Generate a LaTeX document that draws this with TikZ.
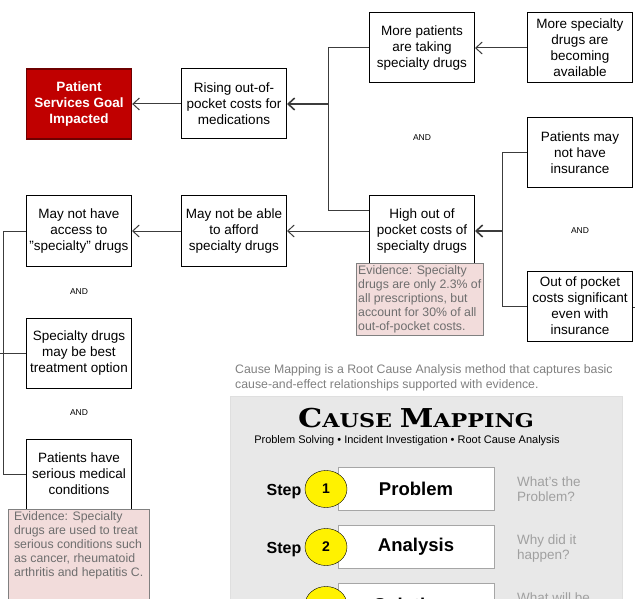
\documentclass[tikz,border=0pt]{standalone}
\usepackage{fontspec}
\setmainfont{Liberation Sans}
\newfontfamily\titlefont{DejaVu Serif}
\usetikzlibrary{arrows.meta,shapes.geometric}

\definecolor{goalred}{HTML}{C00000}
\definecolor{goaledge}{HTML}{6E0000}
\definecolor{evidfill}{HTML}{F2DCDB}
\definecolor{evidtext}{HTML}{6E6E6E}
\definecolor{linkgray}{HTML}{3C3C3C}
\definecolor{panelgray}{HTML}{E8E8E8}
\definecolor{hintgray}{HTML}{A0A0A0}

\begin{document}
\begin{tikzpicture}[x=1pt,y=-1pt,
  cause/.style={draw=black,line width=1pt,fill=white,minimum width=105pt,minimum height=70pt,
    inner sep=1pt,align=center,font=\fontsize{13.5}{16}\selectfont},
  goal/.style={cause,fill=goalred,draw=goaledge,line width=1.4pt,text=white,font=\fontsize{13.5}{16}\selectfont\bfseries},
  evid/.style={draw=gray,fill=evidfill,text=evidtext,anchor=north west,align=left,inner sep=2pt,
    font=\fontsize{12.3}{14.2}\selectfont},
  andlabel/.style={font=\fontsize{8.5}{10}\selectfont},
  link/.style={draw=linkgray,line width=1pt},
  arr/.style={link,-{Straight Barb[length=6.5pt,width=12pt]}},
  stepbox/.style={draw=gray!70,fill=white,minimum width=156pt,minimum height=43pt,font=\fontsize{18.5}{20}\selectfont\bfseries},
  stepball/.style={ellipse,draw=black,fill=yellow,minimum width=42pt,minimum height=37pt,inner sep=0pt,font=\fontsize{14}{16}\selectfont\bfseries},
  steplabel/.style={font=\fontsize{16}{18}\selectfont\bfseries},
  hint/.style={text=hintgray,align=left,anchor=north west,inner sep=0pt,font=\fontsize{13.5}{15}\selectfont}]
  \clip (0,0) rectangle (635,599);

  % cause boxes
  \node[goal] (goal) at (79,104) {Patient\\Services Goal\\Impacted};
  \node[cause] (rising) at (234,104) {Rising out-of-\\pocket costs for\\medications};
  \node[cause] (morepat) at (422,48) {More patients\\are taking\\specialty drugs};
  \node[cause] (moredrug) at (580,48) {More specialty\\drugs are\\becoming\\available};
  \node[cause] (noins) at (580,153) {Patients may\\not have\\insurance};
  \node[cause] (highcost) at (422,231) {High out of\\pocket costs of\\specialty drugs};
  \node[cause] (sigcost) at (580,306) {Out of pocket\\costs significant\\even with\\insurance};
  \node[cause] (afford) at (234,231) {May not be able\\to afford\\specialty drugs};
  \node[cause] (access) at (79,231) {May not have\\access to\\"specialty" drugs};
  \node[cause] (bestopt) at (79,353) {Specialty drugs\\may be best\\treatment option};
  \node[cause] (serious) at (79,474) {Patients have\\serious medical\\conditions};

  \node[evid,minimum width=127pt] (evidcost) at (356,263) {Evidence: Specialty\\drugs are only 2.3\% of\\all prescriptions, but\\account for 30\% of all\\out-of-pocket costs.};
  \node[evid,minimum width=141pt,text depth=30pt] (evidcond) at (8,509) {Evidence: Specialty\\drugs are used to treat\\serious conditions such\\as cancer, rheumatoid\\arthritis and hepatitis C.};

  \node[andlabel] (and1) at (422,138) {AND};
  \node[andlabel] (and2) at (580,231) {AND};
  \node[andlabel] (and3) at (79,292) {AND};
  \node[andlabel] (and4) at (79,413) {AND};

  % connectors
  \coordinate (jr) at (328,104);
  \coordinate (jh) at (502,231);
  \coordinate (jl) at (3,353);
  \coordinate (offleft) at (-10,353);
  \coordinate (offright) at (650,307);
  \draw[arr] (rising) -- (goal);
  \draw[link] (morepat.west) -| (jr);
  \draw[link] ([yshift=20pt]highcost.west) -| (jr);
  \draw[arr,line width=1.6pt] (jr) -- (rising);
  \draw[arr] (moredrug) -- (morepat);
  \draw[link] (noins.west) -| (jh);
  \draw[link] (sigcost.west) -| (jh);
  \draw[arr,line width=1.6pt] (jh) -- (highcost);
  \draw[arr] (highcost) -- (afford);
  \draw[arr] (afford) -- (access);
  \draw[link] (access.west) -| (jl);
  \draw[link] (serious.west) -| (jl);
  \draw[link] (bestopt.west) -- (offleft);
  \draw[link] ([yshift=-1pt]sigcost.east) -- (offright);

  % cause mapping panel
  \node[anchor=north west,align=left,inner sep=0pt,text=gray,font=\fontsize{12.3}{15}\selectfont] (blurb) at (235,364)
    {Cause Mapping is a Root Cause Analysis method that captures basic\\cause-and-effect relationships supported with evidence.};
  \fill[panelgray] (230,396) rectangle (622,640);
  \draw[gray!25] (230,640) -- (230,396) -- (622,396) -- (622,640);
  \node[font=\titlefont\bfseries] (title) at (416,418)
    {\scalebox{1.17}[1]{\fontsize{26}{26}\selectfont C\fontsize{19}{19}\selectfont AUSE \fontsize{26}{26}\selectfont M\fontsize{19}{19}\selectfont APPING}};
  \node[font=\fontsize{11}{12}\selectfont] (subtitle) at (407,441)
    {Problem Solving \textbullet\ Incident Investigation \textbullet\ Root Cause Analysis};
  \foreach \n/\word/\yy/\tip in {1/Problem/489/{What's the\\Problem?},2/Analysis/547/{Why did it\\happen?},3/Solutions/605/{What will be}}{
    \node[stepbox] (box\n) at (416,\yy) {\word};
    \node[steplabel] (step\n) at (284,\yy+3) {Step};
    \node[stepball] (ball\n) at (326,\yy) {\n};
    \node[hint] (tip\n) at (517,\yy-12) {\tip};
  }
\end{tikzpicture}
\end{document}
